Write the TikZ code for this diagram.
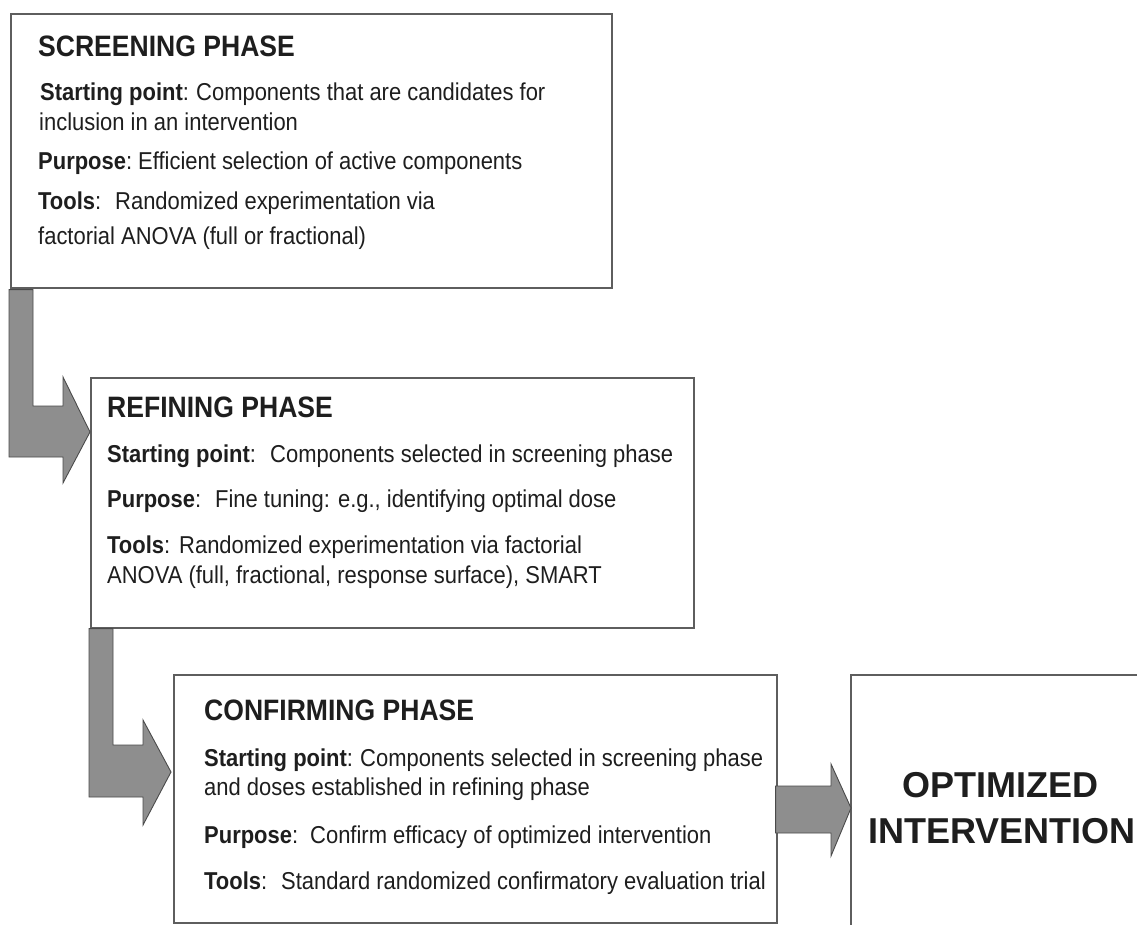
\documentclass[tikz,border=0pt]{standalone}
\usepackage{fontspec}
\setmainfont{Liberation Sans}
\newfontfamily\boxfont[FakeStretch=0.9]{Liberation Sans}
\usetikzlibrary{calc}
\definecolor{boxline}{HTML}{5E5E5E}
\definecolor{txt}{HTML}{1E1E1E}
\definecolor{arrfill}{HTML}{8E8E8E}
\definecolor{arrline}{HTML}{4A4A4A}
\tikzset{
  phasebox/.style={draw=boxline, line width=1.6pt, fill=white, rectangle, anchor=north west, inner sep=0pt},
  ttl/.style={anchor=base west, inner sep=0pt, text=txt, font=\boxfont\fontsize{29.5}{32}\selectfont\bfseries},
  body/.style={anchor=base west, inner sep=0pt, text=txt, font=\boxfont\fontsize{24.4}{28}\selectfont},
  bodyb/.style={body, font=\boxfont\fontsize{24.4}{28}\selectfont\bfseries},
  big/.style={anchor=base, inner sep=0pt, text=txt, font=\fontsize{36}{40}\selectfont\bfseries},
  fatarrow/.style={fill=arrfill, draw=arrline, line width=0.9pt, line join=miter}
}
\begin{document}
\begin{tikzpicture}[x=1pt,y=-1pt]
\clip (0,0) rectangle (1137,925);
\fill[white] (0,0) rectangle (1137,925);

% boxes
\node[phasebox, minimum width=601pt, minimum height=274pt] (b1) at (10,13) {};
\node[phasebox, minimum width=603pt, minimum height=250pt] (b2) at (90,377) {};
\node[phasebox, minimum width=603pt, minimum height=248pt] (b3) at (173,674) {};
\node[phasebox, minimum width=320pt, minimum height=280pt] (b4) at (850,674) {};

% arrow 1: b1 -> b2
\draw[fatarrow] ($(b1.south west)+(-1,1)$) -- ($(b1.south west)+(23,1)$)
  |- ($(b2.north west)+(-27,29)$) -- ($(b2.north west)+(-27,0)$)
  -- ($(b2.north west)+(0,55)$) -- ($(b2.north west)+(-27,106)$)
  -- ($(b2.north west)+(-27,80)$) -| cycle;
% arrow 2: b2 -> b3
\draw[fatarrow] ($(b2.south west)+(-1,0)$) -- ($(b2.south west)+(23,0)$)
  |- ($(b3.north west)+(-30,71)$) -- ($(b3.north west)+(-30,46)$)
  -- ($(b3.north west)+(-2,98)$) -- ($(b3.north west)+(-30,151)$)
  -- ($(b3.north west)+(-30,123)$) -| cycle;
% arrow 3: b3 -> b4
\draw[fatarrow] ($(b3.north east)+(-2,112)$) -- ($(b4.north west)+(-19,112)$)
  -- ($(b4.north west)+(-19,90)$) -- ($(b4.north west)+(1,134)$)
  -- ($(b4.north west)+(-19,182)$) -- ($(b4.north west)+(-19,159)$)
  -- ($(b3.north east)+(-2,159)$) -- cycle;

% box 1 text
\node[ttl] (t1) at (38,57) {SCREENING PHASE};
\node[bodyb] (s1k) at (40,101) {Starting point\textmd{:}};
\node[body] (s1v) at (196,101) {Components that are candidates for};
\node[body] (s1w) at (39,131) {inclusion in an intervention};
\node[bodyb] (p1k) at (38,170) {Purpose\textmd{:}};
\node[body] (p1v) at (138,170) {Efficient selection of active components};
\node[bodyb] (o1k) at (38,210) {Tools\textmd{:}};
\node[body] (o1v) at (115,210) {Randomized experimentation via};
\node[body] (o1w) at (38,245) {factorial ANOVA (full or fractional)};

% box 2 text
\node[ttl] (t2) at (107,417) {REFINING PHASE};
\node[bodyb] (s2k) at (107,462) {Starting point\textmd{:}};
\node[body] (s2v) at (270,462) {Components selected in screening phase};
\node[bodyb] (p2k) at (107,507) {Purpose\textmd{:}};
\node[body] (p2v) at (215,507) {Fine tuning: e.g., identifying optimal dose};
\node[bodyb] (o2k) at (107,553) {Tools\textmd{:}};
\node[body] (o2v) at (179,553) {Randomized experimentation via factorial};
\node[body] (o2w) at (107,583) {ANOVA (full, fractional, response surface), SMART};

% box 3 text
\node[ttl] (t3) at (204,720) {CONFIRMING PHASE};
\node[bodyb] (s3k) at (204,766) {Starting point\textmd{:}};
\node[body] (s3v) at (360,766) {Components selected in screening phase};
\node[body] (s3w) at (204,795) {and doses established in refining phase};
\node[bodyb] (p3k) at (204,843) {Purpose\textmd{:}};
\node[body] (p3v) at (310,843) {Confirm efficacy of optimized intervention};
\node[bodyb] (o3k) at (204,889) {Tools\textmd{:}};
\node[body] (o3v) at (281,889) {Standard randomized confirmatory evaluation trial};

% box 4 text
\node[big] (t4a) at (1000,797) {OPTIMIZED};
\node[big] (t4b) at (1002,843) {INTERVENTION};
\end{tikzpicture}
\end{document}
